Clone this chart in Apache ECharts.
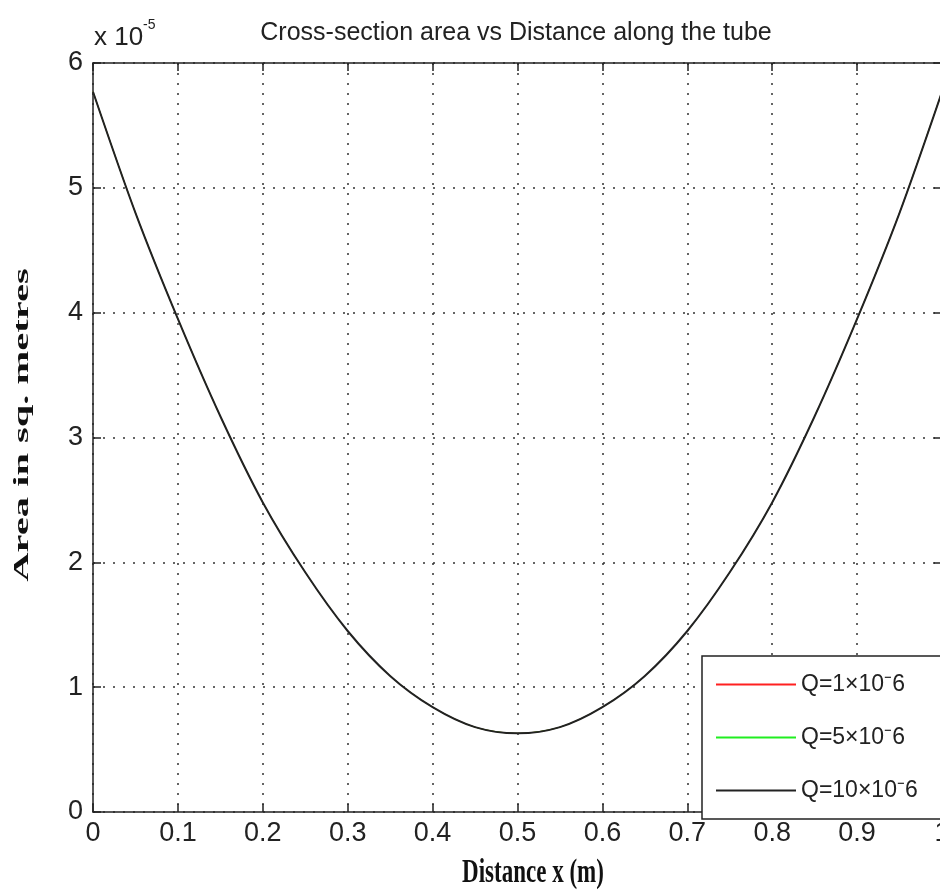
<!DOCTYPE html>
<html>
<head>
<meta charset="utf-8">
<script src="https://cdn.jsdelivr.net/npm/echarts@6/dist/echarts.min.js"></script>
<style>
html,body{margin:0;padding:0;background:#fff;}
#chart{width:940px;height:890px;}
</style>
</head>
<body>
<div id="chart"></div>
<script>
// Distance along the tube (m)
var distance = [0, 0.05, 0.1, 0.15, 0.2, 0.25, 0.3, 0.35, 0.4, 0.45, 0.5, 0.55, 0.6, 0.65, 0.7, 0.75, 0.8, 0.85, 0.9, 0.95, 1.0];
// Cross-section area (m^2), per flow rate (curves coincide)
var areaQ1  = [5.77e-5, 4.80e-5, 3.95e-5, 3.17e-5, 2.48e-5, 1.92e-5, 1.45e-5, 1.09e-5, 0.84e-5, 0.68e-5, 0.63e-5, 0.68e-5, 0.84e-5, 1.09e-5, 1.45e-5, 1.92e-5, 2.48e-5, 3.17e-5, 3.95e-5, 4.80e-5, 5.77e-5];
var areaQ5  = [5.77e-5, 4.80e-5, 3.95e-5, 3.17e-5, 2.48e-5, 1.92e-5, 1.45e-5, 1.09e-5, 0.84e-5, 0.68e-5, 0.63e-5, 0.68e-5, 0.84e-5, 1.09e-5, 1.45e-5, 1.92e-5, 2.48e-5, 3.17e-5, 3.95e-5, 4.80e-5, 5.77e-5];
var areaQ10 = [5.77e-5, 4.80e-5, 3.95e-5, 3.17e-5, 2.48e-5, 1.92e-5, 1.45e-5, 1.09e-5, 0.84e-5, 0.68e-5, 0.63e-5, 0.68e-5, 0.84e-5, 1.09e-5, 1.45e-5, 1.92e-5, 2.48e-5, 3.17e-5, 3.95e-5, 4.80e-5, 5.77e-5];
var seriesNames = ['Q=1\u00d710\u207b6', 'Q=5\u00d710\u207b6', 'Q=10\u00d710\u207b6'];
var xTickLabels = ['0', '0.1', '0.2', '0.3', '0.4', '0.5', '0.6', '0.7', '0.8', '0.9', '1'];
var yTickLabels = ['0', '1', '2', '3', '4', '5', '6'];
var titleText = 'Cross-section area vs Distance along the tube';
var xName = 'Distance x (m)';
var yName = 'Area in sq. metres';

function pairs(xs, ys) { return xs.map(function (x, i) { return [x, ys[i]]; }); }

var chart = echarts.init(document.getElementById('chart'), null, {renderer: 'canvas'});
var axisCol = '#222';
var tickStyle = {show: true, inside: true, length: 8, lineStyle: {color: axisCol, width: 1.5}};
var lineAx = {show: true, onZero: false, lineStyle: {color: axisCol, width: 1.5}};
var gridLine = {show: true, lineStyle: {type: [2, 8], color: '#333', width: 1.5}};
var labelFont = {color: '#222', fontFamily: 'Liberation Sans', fontSize: 27};

var option = {
  backgroundColor: '#fff',
  animation: false,
  grid: {left: 93, top: 63, right: -2, bottom: 78, containLabel: false, outerBoundsMode: 'none'},
  xAxis: [{
    type: 'value', min: 0, max: 1, interval: 0.1, position: 'bottom',
    axisLine: lineAx, axisTick: tickStyle, splitLine: gridLine,
    axisLabel: Object.assign({margin: 8, showMaxLabel: true, formatter: function (v) { return xTickLabels[Math.round(v * 10)]; }}, labelFont)
  }, {
    type: 'value', min: 0, max: 1, interval: 0.1, position: 'top',
    axisLine: lineAx, axisTick: tickStyle, splitLine: {show: false}, axisLabel: {show: false}
  }],
  yAxis: [{
    type: 'value', min: 0, max: 6e-5, interval: 1e-5, position: 'left',
    axisLine: lineAx, axisTick: tickStyle, splitLine: gridLine,
    axisLabel: Object.assign({margin: 10, formatter: function (v) { return yTickLabels[Math.round(v * 1e5)]; }}, labelFont)
  }, {
    type: 'value', min: 0, max: 6e-5, interval: 1e-5, position: 'right',
    axisLine: lineAx, axisTick: tickStyle, splitLine: {show: false}, axisLabel: {show: false}
  }],
  legend: {
    orient: 'vertical', left: 702, top: 656,
    padding: [17, 40, 17, 14], itemGap: 30, itemWidth: 80, itemHeight: 2, icon: 'rect',
    borderColor: '#222', borderWidth: 1.5, backgroundColor: '#fff', borderRadius: 0,
    textStyle: {color: '#222', fontFamily: 'Liberation Sans', fontSize: 23, lineHeight: 22},
    data: seriesNames
  },
  series: [
    {name: seriesNames[0], type: 'line', z: 1, data: pairs(distance, areaQ1), symbol: 'none', smooth: 0.3, lineStyle: {color: '#ff2020', width: 1}, itemStyle: {color: '#ff2020'}},
    {name: seriesNames[1], type: 'line', z: 1, data: pairs(distance, areaQ5), symbol: 'none', smooth: 0.3, lineStyle: {color: '#20ee20', width: 1}, itemStyle: {color: '#20ee20'}},
    {name: seriesNames[2], type: 'line', z: 3, data: pairs(distance, areaQ10), symbol: 'none', smooth: 0.3, lineStyle: {color: '#222', width: 2}, itemStyle: {color: '#222'}}
  ],
  graphic: [
    {type: 'text', x: 516, y: 33, style: {text: titleText, font: '25px "Liberation Sans"', fill: '#222', textAlign: 'center', textVerticalAlign: 'middle'}},
    {type: 'text', x: 94, y: 38, style: {text: 'x 10', font: '26px "Liberation Sans"', fill: '#222', textAlign: 'left', textVerticalAlign: 'middle'}},
    {type: 'text', x: 143, y: 25, style: {text: '-5', font: '14px "Liberation Sans"', fill: '#222', textAlign: 'left', textVerticalAlign: 'middle'}},
    {type: 'text', x: 533, y: 874, scaleY: 1.43, style: {text: xName, font: 'bold 23px "Liberation Serif"', fill: '#111', textAlign: 'center', textVerticalAlign: 'middle'}},
    {type: 'text', x: 22, y: 425, rotation: Math.PI / 2, scaleX: 1.84, style: {text: yName, font: 'bold 22px "Liberation Serif"', fill: '#111', textAlign: 'center', textVerticalAlign: 'middle'}}
  ]
};
chart.setOption(option);
</script>
</body>
</html>
